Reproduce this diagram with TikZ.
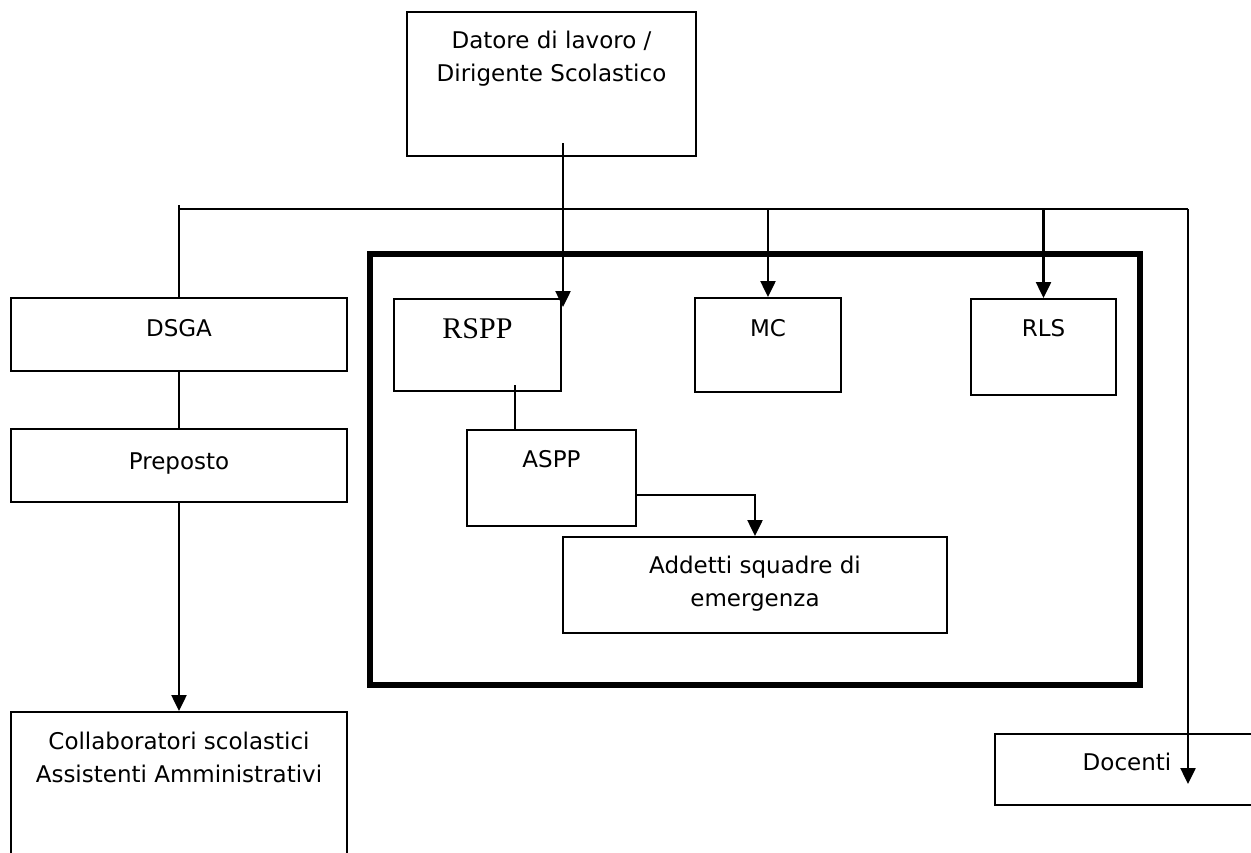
\documentclass[tikz,border=0pt]{standalone}
\usepackage{fontspec}
\setmainfont{DejaVu Sans}
\newfontfamily\timesfont{Liberation Serif}
\usetikzlibrary{arrows.meta}
\begin{document}
\begin{tikzpicture}[x=1pt,y=-1pt,
  box/.style={draw, line width=2pt, rectangle, inner sep=0pt},
  lbl/.style={font=\fontsize{23}{33}\selectfont, align=center, inner sep=0pt, anchor=base},
  conn/.style={line width=2.5pt},
  arr/.style={line width=2.5pt, -{Triangle[length=16pt,width=15pt]}},
  frameline/.style={line width=5.5pt}]
\useasboundingbox (0,0) rectangle (1251,852);
\clip (0,0) rectangle (1251,852);

% boxes
\node[box, minimum width=289pt, minimum height=144pt] (datore) at (551.5,84) {};
\node[box, minimum width=336pt, minimum height=73pt] (dsga) at (179,334.5) {};
\node[box, minimum width=336pt, minimum height=73pt] (preposto) at (179,465.5) {};
\node[box, minimum width=336pt, minimum height=188pt] (collab) at (179,806) {};
\node[box, minimum width=167pt, minimum height=92pt] (rspp) at (477.5,345) {};
\node[box, minimum width=169pt, minimum height=96pt] (aspp) at (551.5,478) {};
\node[box, minimum width=384pt, minimum height=96pt] (addetti) at (755,585) {};
\node[box, minimum width=146pt, minimum height=94pt] (mc) at (768,345) {};
\node[box, minimum width=145pt, minimum height=96pt] (rls) at (1043.5,347) {};
\node[box, minimum width=275pt, minimum height=71pt] (docenti) at (1132.5,769.5) {};

% thick frame
\draw[frameline] (370,254) rectangle (1140,685);

% texts
\node[lbl] (datoreT) at (551.5,81) {Datore di lavoro /\\Dirigente Scolastico};
\node[lbl] (dsgaT) at (179,336) {DSGA};
\node[lbl] (prepostoT) at (179,469) {Preposto};
\node[lbl] (collabT) at (179,782) {Collaboratori scolastici\\Assistenti Amministrativi};
\node[lbl, font=\timesfont\fontsize{30}{36}\selectfont] (rsppT) at (477.5,338) {RSPP};
\node[lbl] (asppT) at (551.5,467) {ASPP};
\node[lbl] (addettiT) at (755,606) {Addetti squadre di\\emergenza};
\node[lbl] (mcT) at (768,336) {MC};
\node[lbl] (rlsT) at (1043.5,336) {RLS};
\node[lbl] (docentiT) at (1127,770) {Docenti};

% connector points
\coordinate (busL) at (179,209);
\coordinate (busR) at (1188,209);
\coordinate (dStart) at (563,143);
\coordinate (dTip) at (563,307);
\coordinate (raTop) at (515,385);
\coordinate (docTip) at (1188,784);

% connectors
\draw[conn] (busL) -- (busR);
\draw[arr] (dStart) -- (dTip);
\draw[conn] ([yshift=4pt]busL) -- (dsga.north);
\draw[arr] (busL -| mc.north) -- (mc.north);
\draw[arr] (busL -| rls.north) -- (rls.north);
\draw[arr] (busR) -- (docTip);
\draw[conn] (dsga.south) -- (preposto.north);
\draw[arr] (preposto.south) -- (collab.north);
\draw[conn] (raTop) -- (raTop |- aspp.north);
\draw[arr] ([yshift=-17pt]aspp.east) -| (addetti.north);
\end{tikzpicture}
\end{document}
